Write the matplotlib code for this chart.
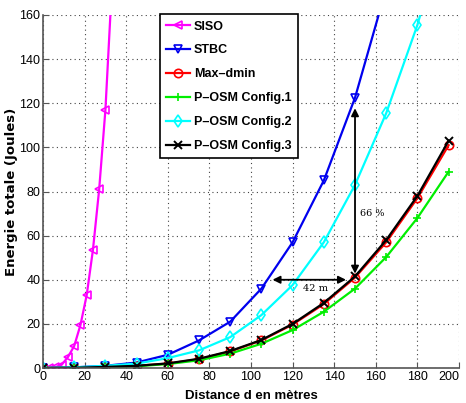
import matplotlib.pyplot as plt

# distances (m)
d_siso = [0, 3, 6, 9, 12, 15, 18, 21, 24, 27, 30, 33]
d = [0, 15, 30, 45, 60, 75, 90, 105, 120, 135, 150, 165, 180, 195]

# total energy (Joules)
e_siso = [0, 0.1, 0.4, 1.5, 5, 10, 19.5, 33, 53.5, 81, 117, 171]
e_stbc = [0, 0.3, 1, 2.5, 6, 12.5, 21, 36, 57, 85, 122.5, 172, 235, 310]
e_maxdmin = [0, 0.1, 0.5, 1, 2, 4, 7.5, 12.5, 19.7, 29, 41, 57, 77, 101]
e_cfg1 = [0, 0.1, 0.4, 0.8, 1.8, 3.5, 6.5, 11, 17.2, 25.5, 36, 50.3, 68, 89]
e_cfg2 = [0, 0.3, 1, 2, 4.5, 8, 14, 24, 37.6, 57, 83, 115.5, 155.5, 205]
e_cfg3 = [0, 0.1, 0.5, 1, 2.1, 4.2, 7.7, 12.7, 20, 29.5, 41.5, 58, 78, 103]

plt.rcParams['font.family'] = ['Liberation Sans', 'DejaVu Sans']

fig = plt.figure(figsize=(4.66, 4.03), dpi=100)
ax = fig.add_axes([0.0923, 0.0868, 0.8927, 0.876])

lw = 1.6
ms = 6
ax.plot(d_siso, e_siso, color='magenta', marker='<', mfc='none', mew=1.2, ms=ms, lw=lw, label='SISO')
ax.plot(d, e_stbc, color='#0000ee', marker='v', mfc='none', mew=1.2, ms=ms, lw=lw, label='STBC')
ax.plot(d, e_maxdmin, color='red', marker='o', mfc='none', mew=1.2, ms=ms, lw=lw, label='Max\u2013dmin')
ax.plot(d, e_cfg1, color='#00ee00', marker='+', mew=1.2, ms=ms, lw=lw, label='P\u2013OSM Config.1')
ax.plot(d, e_cfg2, color='cyan', marker='d', mfc='none', mew=1.2, ms=ms, lw=lw, label='P\u2013OSM Config.2')
ax.plot(d, e_cfg3, color='black', marker='x', mew=1.4, ms=ms, lw=lw, label='P\u2013OSM Config.3')

# annotations
ax.annotate('', xy=(150, 119), xytext=(150, 41.5),
            arrowprops=dict(arrowstyle='<|-|>', color='black', lw=1.3, mutation_scale=11))
ax.annotate('', xy=(109, 40), xytext=(147, 40),
            arrowprops=dict(arrowstyle='<|-|>', color='black', lw=1.3, mutation_scale=11))
ax.text(152.5, 70, '66 %', family='DejaVu Serif', fontsize=7, va='center', ha='left')
ax.text(131, 36, '42 m', family='DejaVu Serif', fontsize=7, va='center', ha='center')

ax.set_xlim(0, 200)
ax.set_ylim(0, 160)
ax.set_xticks(range(0, 201, 20))
ax.set_yticks(range(0, 161, 20))
ax.tick_params(direction='in', labelsize=9, length=4, color='#555555', pad=2)
ax.get_xticklabels()[-1].set_horizontalalignment('right')
ax.grid(True, linestyle=(0, (1, 3)), color='#444444', lw=0.8)
for s in ['top', 'right']:
    ax.spines[s].set_visible(False)
for s in ['left', 'bottom']:
    ax.spines[s].set_color('#555555')
    ax.spines[s].set_linewidth(1.2)

ax.set_xlabel('Distance d en mètres', fontweight='bold', fontsize=9.5, va='top')
ax.xaxis.set_label_coords(0.5, -0.062)
ax.set_ylabel('Energie totale (Joules)', family='DejaVu Sans', fontweight='bold', fontsize=9.5)
ax.yaxis.set_label_coords(-0.06, 0.5)

leg = ax.legend(loc='upper left', bbox_to_anchor=(0.281, 1.002), fancybox=False, framealpha=1,
                edgecolor='black', handlelength=1.9, handletextpad=0.3, labelspacing=0.95,
                borderpad=0.5, borderaxespad=0,
                prop={'weight': 'bold', 'size': 9})
leg.get_frame().set_linewidth(1.2)

fig.savefig('out.png', dpi=100)
